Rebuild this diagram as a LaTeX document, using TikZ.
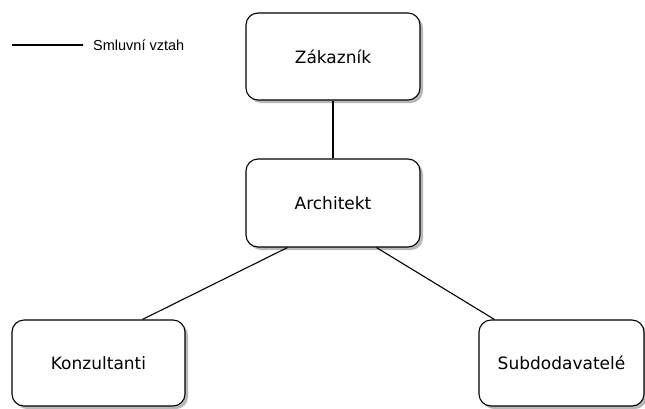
\documentclass[tikz,border=0pt]{standalone}
\usepackage{fontspec}
\setmainfont{DejaVu Sans}
\newfontfamily\legendfont{Liberation Sans}
\usetikzlibrary{shadows}
\begin{document}
\begin{tikzpicture}[x=1pt,y=-1pt,
  box/.style={draw, line width=1.1pt, rounded corners=12pt, fill=white,
    drop shadow={shadow xshift=3pt, shadow yshift=-3pt, fill=black!28, opacity=1},
    font=\fontsize{17}{20}\selectfont, inner sep=0pt},
  conn/.style={line width=1.1pt}]
\useasboundingbox (0,0) rectangle (645,408);
\node[box, minimum width=174pt, minimum height=87pt] (zak) at (333,56.5) {Zákazník};
\node[box, minimum width=174pt, minimum height=88pt] (arch) at (333,203) {Architekt};
\node[box, minimum width=173pt, minimum height=86pt] (konz) at (98.5,363) {Konzultanti};
\node[box, minimum width=165pt, minimum height=86pt] (subd) at (561.5,363) {Subdodavatelé};
\draw[conn] (zak.south) -- (arch.north);
\draw[conn] ([xshift=42pt]arch.south west) -- ([xshift=131pt]konz.north west);
\draw[conn] ([xshift=131pt]arch.south west) -- ([xshift=16pt]subd.north west);
\coordinate (l1) at (12,45);
\coordinate (l2) at (83,45);
\draw[conn] (l1) -- (l2);
\node[anchor=west, inner sep=0pt, font=\legendfont\fontsize{14.5}{17}\selectfont] (leg) at (93,45) {Smluvní vztah};
\end{tikzpicture}
\end{document}
